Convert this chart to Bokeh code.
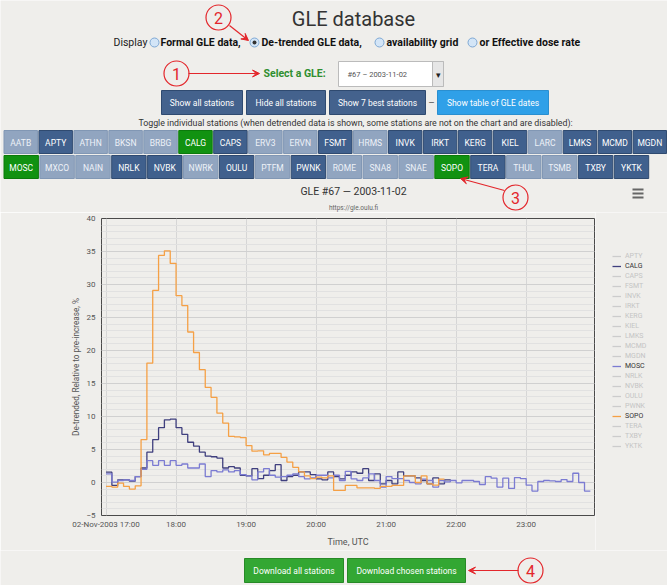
from bokeh.plotting import figure
from bokeh.layouts import column, row
from bokeh.models import Range1d, FixedTicker, Legend, LegendItem, Arrow, VeeHead
from bokeh.core.properties import value
from bokeh.embed import file_html
from bokeh.resources import INLINE
import numpy as np

FONT = "Roboto"
BG = "#efeeeb"
RED = "#e3262b"

# ---------------- data ----------------
page_title = "GLE database"
display_label = "Display"
display_options = ["Formal GLE data,", "De-trended GLE data,", "availability grid", "or Effective dose rate"]
selected_option = 1
select_label = "Select a GLE:"
gle_choice = "#67 \u2013 2003-11-02"
action_buttons = ["Show all stations", "Hide all stations", "Show 7 best stations"]
table_button = "Show table of GLE dates"
toggle_note = ("Toggle individual stations (when detrended data is shown, some stations "
               "are not on the chart and are disabled):")
stations_row1 = ["AATB", "APTY", "ATHN", "BKSN", "BRBG", "CALG", "CAPS", "ERV3", "ERVN", "FSMT",
                 "HRMS", "INVK", "IRKT", "KERG", "KIEL", "LARC", "LMKS", "MCMD", "MGDN"]
stations_row2 = ["MOSC", "MXCO", "NAIN", "NRLK", "NVBK", "NWRK", "OULU", "PTFM", "PWNK", "ROME",
                 "SNA8", "SNAE", "SOPO", "TERA", "THUL", "TSMB", "TXBY", "YKTK"]
legend_stations = ["APTY", "CALG", "CAPS", "FSMT", "INVK", "IRKT", "KERG", "KIEL", "LMKS", "MCMD",
                   "MGDN", "MOSC", "NRLK", "NVBK", "OULU", "PWNK", "SOPO", "TERA", "TXBY", "YKTK"]
shown_stations = ["CALG", "MOSC", "SOPO"]
chart_title = "GLE #67 \u2014 2003-11-02"
chart_subtitle = "https://gle.oulu.fi"
y_title = "De-trended, Relative to pre-increase, %"
x_title = "Time, UTC"
hour_ticks = [17, 18, 19, 20, 21, 22, 23]
hour_labels = ["02-Nov-2003 17:00", "18:00", "19:00", "20:00", "21:00", "22:00", "23:00"]
y_ticks = [-5, 0, 5, 10, 15, 20, 25, 30, 35, 40]
start_hour = 17.0
step_minutes = 5
download_buttons = ["Download all stations", "Download chosen stations"]
marker_numbers = ["1", "2", "3", "4"]

sopo = [-0.6, -0.7, -0.1, -0.6, -1.0, -0.5, 6.5, 18.1, 29.1, 34.4, 35.1, 33.2, 28.3, 26.8, 22.8,
        19.7, 17.1, 14.4, 12.9, 10.5, 9.0, 7.0, 6.9, 6.8, 5.6, 4.75, 4.8, 4.2, 4.4, 4.4, 3.8, 3.1,
        2.3, 1.6, 1.0, 0.6, 0.8, 0.7, 1.0, -1.2, -1.2, -0.45, -0.45, -0.8, -0.8, -0.8, -0.9, -0.6,
        -0.6, -0.45, -0.45, 1.0, 1.0, 0.0, 1.0, -0.2, -0.4, 0.5, 0.5]
calg = [1.56, -0.45, 0.4, 0.4, 0.2, 0.9, 2.2, 4.6, 6.5, 8.3, 9.5, 9.6, 8.3, 7.3, 6.1, 5.5, 4.6,
        4.0, 3.9, 3.7, 2.2, 2.4, 2.2, 1.1, 1.0, 2.1, 0.6, 1.1, 1.8, 2.7, 0.3, 0.9, 1.1, 1.6, 1.6,
        1.2, 0.55, 0.4, 1.6, 0.9, 0.55, 1.1, 1.6, 1.4, 2.1, 0.3, 1.3, -0.2, 0.3, -0.2, 1.6, 1.0,
        1.0, 0.7, 0.3, -0.2, 0.7, -0.2, 0.4, 0.3]
mosc = [1.3, 0.05, 0.3, 0.4, 0.3, 0.9, 2.0, 3.3, 2.6, 3.3, 2.6, 3.3, 2.6, 2.8, 2.2, 2.2, 2.8, 0.9,
        1.8, 1.6, 1.9, 1.6, 1.8, 1.2, 1.0, 0.4, 1.6, 2.1, 1.1, 0.8, 0.9, 1.1, 1.3, 0.9, 0.55, 0.7,
        1.1, 1.1, 0.7, 1.1, 0.3, 1.7, 0.55, 0.3, 0.7, 1.3, 0.3, -0.7, 0.9, 0.6, 0.6, 0.3, 0.0,
        -0.2, 0.5, 0.3, -0.7, 0.3, 0.1, 0.3, -0.05, 0.3, 0.3, 0.15, -0.3, 0.9, 0.65, -0.7, 0.65,
        -0.9, 0.75, 0.6, -0.4, -1.3, 0.15, 0.3, 0.25, 0.15, 0.45, 0.15, 1.4, 0.0, -1.3, -1.3]
series = {"CALG": calg, "MOSC": mosc, "SOPO": sopo}
series_colors = {"CALG": "#3f3f7e", "MOSC": "#7b7bd2", "SOPO": "#f5a045"}
hidden_color = "#cccccc"

# ---------------- helpers ----------------
W = 667


def deco_fig(y_top, y_bottom, width=W, x0=0):
    f = figure(width=width, height=int(y_bottom - y_top), x_range=Range1d(x0, x0 + width),
               y_range=Range1d(-y_bottom, -y_top), output_backend="svg", toolbar_location=None,
               min_border=0, x_axis_location=None, y_axis_location=None, frame_align=False,
               background_fill_color=BG, border_fill_color=BG, outline_line_color=None)
    f.grid.visible = False
    return f


def txt(f, x, y, t, size, color="#333333", align="center", style="normal"):
    f.text(x=[x], y=[-y], text=[t], text_font=value(FONT), text_font_size=size,
           text_color=color, text_align=align, text_baseline="middle", text_font_style=style)


def button(f, l, r, t, b, label, fill, line, tcolor="white", size="8.5px"):
    f.quad(left=[l], right=[r], top=[-t], bottom=[-b], fill_color=fill, line_color=line, line_width=1)
    txt(f, (l + r) / 2, (t + b) / 2 + 0.5, label, size, tcolor)


def number_marker(f, x, y, label, x0, y0, x1, y1):
    f.scatter(x=[x], y=[-y], size=25, marker="circle", fill_color=None, line_color=RED, line_width=1.2)
    txt(f, x, y + 0.5, label, "16px", RED)
    f.add_layout(Arrow(x_start=x0, y_start=-y0, x_end=x1, y_end=-y1, line_color=RED, line_width=1.2,
                       end=VeeHead(size=7, fill_color=RED, line_color=RED)))


# ---------------- header ----------------
hdr = deco_fig(0, 212)
txt(hdr, 353, 18, page_title, "20px", "#333333")
number_marker(hdr, 218, 17, marker_numbers[1], 229, 25, 248, 40)

txt(hdr, 113, 42, display_label, "10.5px", "#222222", "left")
radio_x = [154, 254, 379, 472]
label_x = [160, 261, 386, 479]
for i, opt in enumerate(display_options):
    hdr.scatter(x=[radio_x[i]], y=[-42], size=9, marker="circle", fill_color="#d3e5f7",
                line_color="#7ea8d4", line_width=1)
    if i == selected_option:
        hdr.scatter(x=[radio_x[i]], y=[-42], size=4, marker="circle", fill_color="#333333",
                    line_color=None)
    txt(hdr, label_x[i], 42, opt, "10.5px", "#111111", "left", "bold")

number_marker(hdr, 176, 73, marker_numbers[0], 188, 73, 259, 73)
txt(hdr, 263, 73, select_label, "10.5px", "#2f8f2f", "left", "bold")
hdr.quad(left=[338], right=[443], top=[-61], bottom=[-86], fill_color="white", line_color="#bbbbbb")
hdr.quad(left=[432], right=[443], top=[-61], bottom=[-86], fill_color="#e6e6e6", line_color="#bbbbbb")
txt(hdr, 347, 74, gle_choice, "7.5px", "#555555", "left")
txt(hdr, 437.5, 74, "\u25be", "9px", "#222222")

btn_l = [161, 246, 329]
btn_r = [242, 325, 425]
for i, lab in enumerate(action_buttons):
    button(hdr, btn_l[i], btn_r[i], 90, 114, lab, "#44628d", "#2f4a70")
txt(hdr, 431, 102, "\u2013", "10px", "#666666")
button(hdr, 437, 548, 90, 114, table_button, "#2fa0e8", "#2a8fd0")

txt(hdr, 355, 122, toggle_note, "8.8px", "#333333")


def station_style(s):
    if s in shown_stations:
        return "#119211", "#0b7a0b", "white"
    if s in legend_stations:
        return "#40608d", "#2f4a70", "white"
    return "#91a5c0", "#8197b4", "#eef2f8"


pitch1 = 34.95
for i, s in enumerate(stations_row1):
    fc, lc, tc = station_style(s)
    button(hdr, 3 + i * pitch1 + 0.5, 3 + (i + 1) * pitch1 - 1, 130, 153, s, fc, lc, tc, "8.5px")
pitch2 = 35.9
for i, s in enumerate(stations_row2):
    fc, lc, tc = station_style(s)
    button(hdr, 3 + i * pitch2 + 0.5, 3 + (i + 1) * pitch2 - 1, 155, 178, s, fc, lc, tc, "8.5px")

number_marker(hdr, 515, 197, marker_numbers[2], 504, 190, 460, 178)
txt(hdr, 353, 191, chart_title, "10.5px", "#333333")
txt(hdr, 353, 207, chart_subtitle, "6.5px", "#666666")
for yy in [189, 193, 197]:
    hdr.line(x=[632, 643], y=[-yy, -yy], line_color="#666666", line_width=2)

# ---------------- chart ----------------
CW = 595
chart = figure(width=CW, height=338, x_range=Range1d(16.935, 23.976), y_range=Range1d(-5, 40),
               output_backend="svg", toolbar_location=None, frame_align=False,
               min_border_left=101, min_border_right=1, min_border_top=6, min_border_bottom=35,
               background_fill_color=BG, border_fill_color=BG,
               outline_line_color="#4a4a4a", outline_line_width=1)

chart.xaxis.ticker = FixedTicker(ticks=hour_ticks)
chart.xaxis.major_label_overrides = {t: l for t, l in zip(hour_ticks, hour_labels)}
chart.yaxis.ticker = FixedTicker(ticks=y_ticks, minor_ticks=list(range(-5, 41)))
for ax in chart.axis:
    ax.axis_line_color = None
    ax.major_tick_line_color = None
    ax.minor_tick_line_color = None
    ax.major_tick_out = 0
    ax.minor_tick_out = 0
    ax.major_label_text_font = FONT
    ax.major_label_text_font_size = "8px"
    ax.major_label_text_color = "#555555"
    ax.axis_label_text_font = FONT
    ax.axis_label_text_font_style = "normal"
    ax.axis_label_text_color = "#555555"
chart.xaxis.axis_label = x_title
chart.yaxis.axis_label = y_title
chart.xaxis.axis_label_text_font_size = "9px"
chart.yaxis.axis_label_text_font_size = "8.2px"
chart.xaxis.major_label_standoff = 4
chart.xaxis.axis_label_standoff = 5
chart.yaxis.major_label_standoff = 6
chart.yaxis.axis_label_standoff = 2
chart.xgrid.grid_line_color = "#d6d6d6"
chart.ygrid.grid_line_color = "#d0d0d0"
chart.ygrid.minor_grid_line_color = "#e1e1e1"

for name in legend_stations:
    if name in series:
        vals = series[name]
        t = start_hour + np.arange(len(vals)) * step_minutes / 60.0
        chart.step(x=t, y=vals, mode="after", line_color=series_colors[name], line_width=1.3)

# ---------------- legend panel ----------------
LW = W - CW
legf = figure(width=LW, height=338, x_range=Range1d(0, 1), y_range=Range1d(0, 1),
              output_backend="svg", toolbar_location=None, min_border=0, frame_align=False,
              x_axis_location=None, y_axis_location=None,
              background_fill_color=BG, border_fill_color=BG, outline_line_color=None)
legf.grid.visible = False
leg_renderers = {}
for name in legend_stations:
    col = series_colors[name] if name in shown_stations else hidden_color
    # placeholder renderer (kept outside the visible range) that only supplies the legend swatch
    leg_renderers[name] = legf.line(x=[5, 6], y=[5, 6], line_color=col, line_width=1.3)

groups = []
for i, name in enumerate(legend_stations):
    vis = name in shown_stations
    if groups and groups[-1][2] == vis:
        groups[-1][1].append(name)
    else:
        groups.append([i, [name], vis])

panel_bottom = 550
for k, names, vis in groups:
    top = 251 + k * 10
    bottom = top + len(names) * 10
    leg = Legend(items=[LegendItem(label=n, renderers=[leg_renderers[n]]) for n in names],
                 location=(17, panel_bottom - bottom), orientation="vertical",
                 padding=0, margin=0, spacing=0, glyph_width=9, glyph_height=10, label_height=10,
                 label_standoff=4, border_line_color=None, background_fill_alpha=0,
                 label_text_font=FONT, label_text_font_size="7px",
                 label_text_color=("#333333" if vis else "#c4c4c4"))
    legf.add_layout(leg)

# ---------------- footer ----------------
ftr = deco_fig(550, 585)
dl_l = [244, 347]
dl_r = [343, 465]
for i, lab in enumerate(download_buttons):
    button(ftr, dl_l[i], dl_r[i], 558, 582, lab, "#33a733", "#278a27", "white", "8.5px")
number_marker(ftr, 530, 570, marker_numbers[3], 518, 570, 468, 570)

layout = column(hdr, row(chart, legf, spacing=0), ftr, spacing=0)
open("out.html", "w").write(file_html(layout, INLINE))
